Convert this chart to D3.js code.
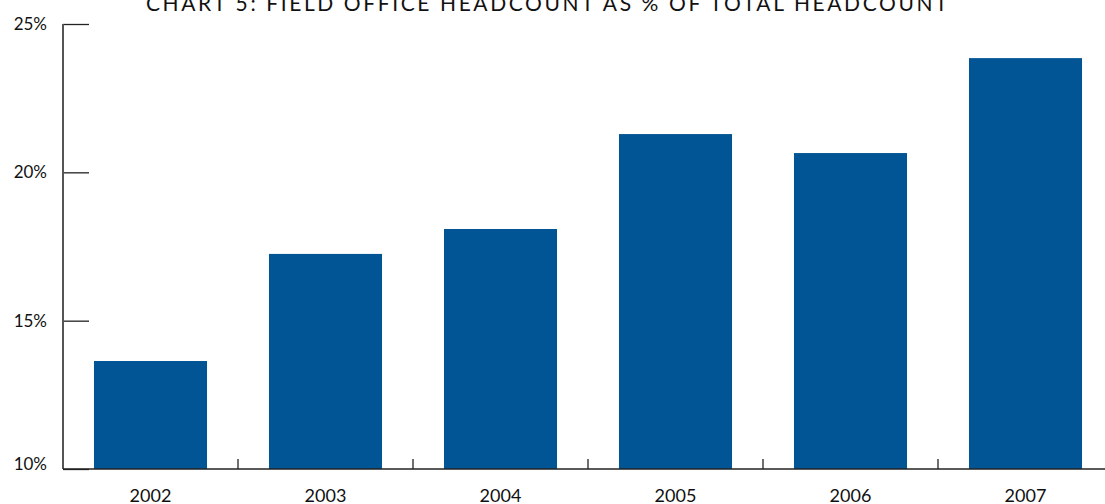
<!DOCTYPE html>
<html>
<head>
<meta charset="utf-8">
<script src="https://cdn.jsdelivr.net/npm/d3@7"></script>
<style>
  body { margin: 0; background: #fff; }
  text { font-family: Lato, "Open Sans", sans-serif; fill: #111; }
</style>
</head>
<body>
<svg id="chart"></svg>
<script>
// data
const years = ["2002", "2003", "2004", "2005", "2006", "2007"];
const shares = [13.64, 17.25, 18.09, 21.29, 20.65, 23.85];
const yTicks = [10, 15, 20, 25];

const W = 1105, H = 504;
const margin = { top: 24, right: -8, bottom: 35, left: 63 };
const width = W - margin.left - margin.right;
const height = H - margin.top - margin.bottom;

const svg = d3.select('#chart')
  .attr('width', W)
  .attr('height', H);

// title, cut off at the top like the original
svg.append('text')
  .attr('x', 548)
  .attr('y', 11)
  .attr('text-anchor', 'middle')
  .style('font-size', '21px')
  .style('letter-spacing', '2.6px')
  .text('CHART 5: FIELD OFFICE HEADCOUNT AS % OF TOTAL HEADCOUNT');

const g = svg.append('g')
  .attr('transform', `translate(${margin.left}, ${margin.top})`);

const x = d3.scaleBand()
  .domain(years)
  .range([0, width])
  .paddingInner(0.354)
  .paddingOuter(0.177);

const y = d3.scaleLinear()
  .domain([10, 25])
  .range([height, 0]);

// bars
g.selectAll('rect.bar')
  .data(years)
  .enter()
  .append('rect')
  .attr('class', 'bar')
  .attr('x', d => x(d))
  .attr('width', x.bandwidth())
  .attr('y', (d, i) => y(shares[i]))
  .attr('height', (d, i) => height - y(shares[i]))
  .style('fill', '#025595');

// y axis: ticks point inward
const yAxis = g.append('g')
  .call(d3.axisRight(y).tickValues(yTicks).tickSize(26).tickFormat(d => d + '%'));
yAxis.select('.domain').remove();
yAxis.selectAll('.tick line').attr('stroke', '#222').attr('stroke-width', 1.3);
yAxis.selectAll('.tick text')
  .attr('x', -16)
  .attr('dy', d => d === 10 ? '0.05em' : '0.32em')
  .attr('text-anchor', 'end')
  .style('font-size', '17px');
g.append('line')
  .attr('x1', 0).attr('x2', 0)
  .attr('y1', 0).attr('y2', height)
  .attr('stroke', '#555').attr('stroke-width', 2);

// x axis: baseline, separators between bands, year labels
g.append('line')
  .attr('x1', 0).attr('x2', width)
  .attr('y1', height).attr('y2', height)
  .attr('stroke', '#222').attr('stroke-width', 1.5);

const step = x.step();
g.selectAll('line.sep')
  .data(years.slice(1))
  .enter()
  .append('line')
  .attr('class', 'sep')
  .attr('x1', d => x(d) - x.paddingInner() * step / 2)
  .attr('x2', d => x(d) - x.paddingInner() * step / 2)
  .attr('y1', height - 10)
  .attr('y2', height)
  .attr('stroke', '#222').attr('stroke-width', 1.3);

g.selectAll('text.year')
  .data(years)
  .enter()
  .append('text')
  .attr('class', 'year')
  .attr('x', d => x(d) + x.bandwidth() / 2)
  .attr('y', height + 33)
  .attr('text-anchor', 'middle')
  .style('font-size', '18px')
  .text(d => d);
</script>
</body>
</html>
